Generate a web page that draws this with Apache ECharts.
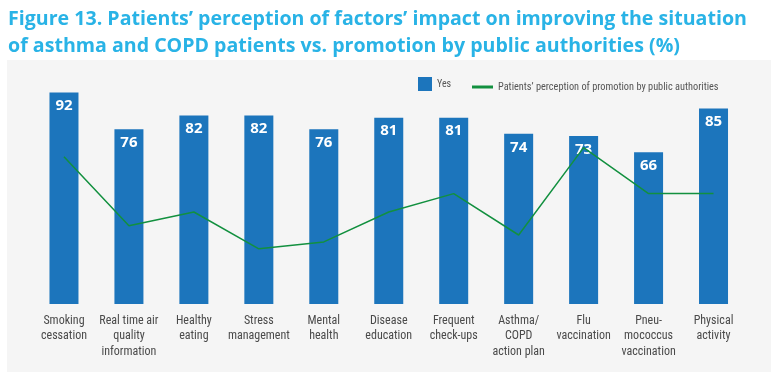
<!DOCTYPE html>
<html>
<head>
<meta charset="utf-8">
<script src="https://cdn.jsdelivr.net/npm/echarts@6/dist/echarts.min.js"></script>
<style>
  html, body { margin: 0; padding: 0; background: #fff; }
  #chart { width: 771px; height: 375px; }
</style>
</head>
<body>
<div id="chart"></div>
<script>
// factors shown on the x axis
const categories = [
    'Smoking\ncessation', 'Real time air\nquality\ninformation', 'Healthy\neating',
    'Stress\nmanagement', 'Mental\nhealth', 'Disease\neducation', 'Frequent\ncheck-ups',
    'Asthma/\nCOPD\naction plan', 'Flu\nvaccination', 'Pneu-\nmococcus\nvaccination', 'Physical\nactivity'
];
// % who say "Yes"
const yesValues = [92, 76, 82, 82, 76, 81, 81, 74, 73, 66, 85];
// perception of promotion by public authorities
const promotionValues = [64, 34, 40, 24, 27, 40, 48, 30, 68, 48, 48];

const lineName = 'Patients\u2019 perception of promotion by public authorities';
const condensed = '"Liberation Sans Narrow", "Roboto Condensed", Roboto, sans-serif';

const chart = echarts.init(document.getElementById('chart'));
chart.setOption({
    backgroundColor: '#fff',
    animation: false,
    title: {
        text: 'Figure 13. Patients\u2019 perception of factors\u2019 impact on improving the situation\nof asthma and COPD patients vs. promotion by public authorities (%)',
        left: 3, top: 1,
        textStyle: { color: '#29b3e6', fontSize: 19.6, fontWeight: 'bold', fontFamily: '"Open Sans", sans-serif', lineHeight: 27 }
    },
    graphic: [{
        type: 'rect', z: -10, silent: true,
        shape: { x: 7, y: 60, width: 764, height: 312 },
        style: { fill: '#f5f5f5' }
    }],
    legend: [{
        data: ['Yes'], left: 413, top: 72, icon: 'rect',
        itemWidth: 14, itemHeight: 14, itemGap: 0,
        textStyle: { color: '#555', fontSize: 10, fontFamily: condensed }
    }, {
        data: [lineName], left: 467, top: 77, icon: 'rect',
        itemWidth: 21, itemHeight: 3,
        textStyle: { color: '#555', fontSize: 10.3, fontFamily: condensed }
    }],
    grid: { left: 31.5, right: 25, top: 74, bottom: 71 },
    xAxis: {
        type: 'category', data: categories,
        axisLine: { show: false }, axisTick: { show: false },
        axisLabel: { interval: 0, margin: 9, color: '#4a4a4a', fontSize: 12, lineHeight: 15.5, fontFamily: condensed }
    },
    yAxis: { type: 'value', min: 0, max: 100, show: false, splitLine: { show: false } },
    series: [{
        name: 'Yes', type: 'bar', data: yesValues, barWidth: 29,
        itemStyle: { color: '#1c75bc' },
        label: {
            show: true, position: 'insideTop', distance: 6, color: '#fff',
            fontSize: 15, fontWeight: 'bold', fontFamily: '"Open Sans", sans-serif'
        }
    }, {
        name: lineName, type: 'line', data: promotionValues,
        symbol: 'none', z: 5,
        itemStyle: { color: '#12903f' },
        lineStyle: { color: '#12903f', width: 1.5 }
    }]
});
</script>
</body>
</html>
